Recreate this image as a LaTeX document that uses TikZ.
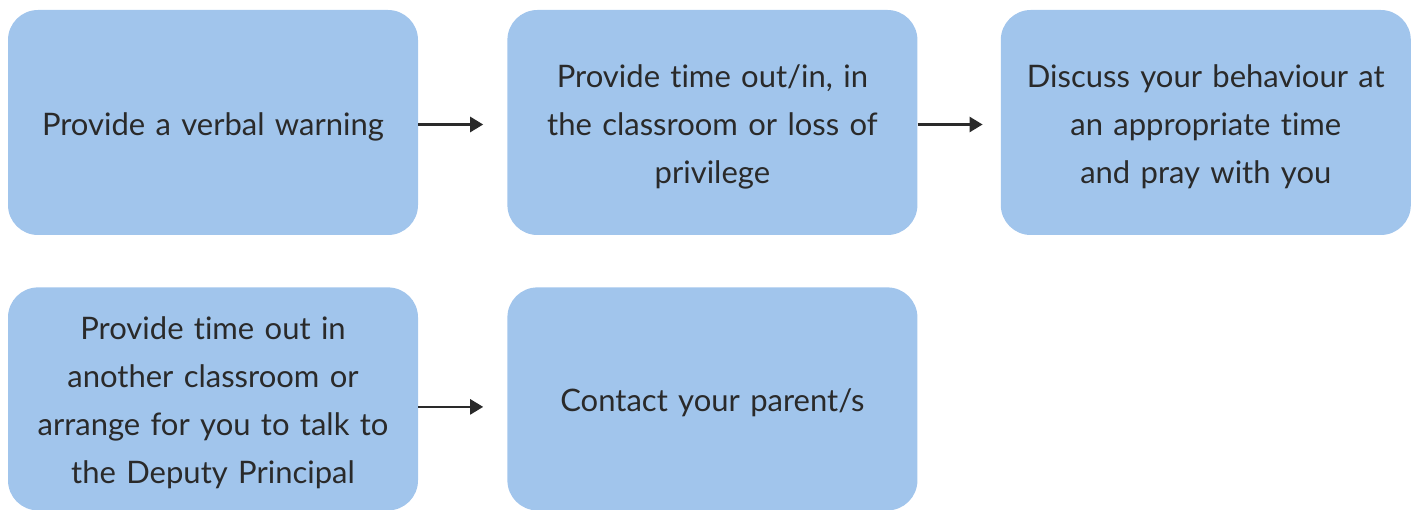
\documentclass[tikz,border=0pt]{standalone}
\usepackage{fontspec}
\setmainfont{Lato}[Ligatures=NoCommon]
\usetikzlibrary{positioning,arrows.meta}
\definecolor{stepblue}{HTML}{A1C5EC}
\definecolor{steptext}{HTML}{2A2A2A}
\tikzset{
  stepbox/.style={fill=stepblue, rounded corners=30pt, minimum width=410pt,
    minimum height=225pt, inner sep=0pt},
  steplabel/.style={yshift=-4pt, text width=380pt, align=center, inner sep=0pt,
    text=steptext, font=\fontsize{31}{48}\selectfont},
  flow/.style={line width=2.5pt, draw=steptext, -{Triangle[length=13pt,width=15pt]}}
}
\begin{document}
\begin{tikzpicture}[x=1pt,y=1pt]
  \useasboundingbox (0,0) rectangle (1419,509);
  % Top row
  \node[stepbox, label={[steplabel]center:{Provide a verbal warning}}] (warn) at (213,386.5) {};
  \node[stepbox, right=89pt of warn,
    label={[steplabel]center:{Provide time out/in, in\\the classroom or loss of\\privilege}}] (timein) {};
  \node[stepbox, right=83pt of timein,
    label={[steplabel]center:{Discuss your behaviour at\\an appropriate time\\and pray with you}}] (discuss) {};
  % Bottom row
  \node[stepbox, minimum height=223pt, below=52pt of warn,
    label={[steplabel]center:{Provide time out in\\another classroom or\\arrange for you to talk to\\the Deputy Principal}}] (other) {};
  \node[stepbox, minimum height=223pt, right=89pt of other,
    label={[steplabel]center:{Contact your parent/s}}] (parent) {};
  % Arrows
  \draw[flow, shorten >=24pt] ([yshift=-2pt]warn.east) -- ([yshift=-2pt]timein.west);
  \draw[flow, shorten >=18pt] ([yshift=-2pt]timein.east) -- ([yshift=-2pt]discuss.west);
  \draw[flow, shorten >=24pt] ([yshift=-8pt]other.east) -- ([yshift=-8pt]parent.west);
\end{tikzpicture}
\end{document}
